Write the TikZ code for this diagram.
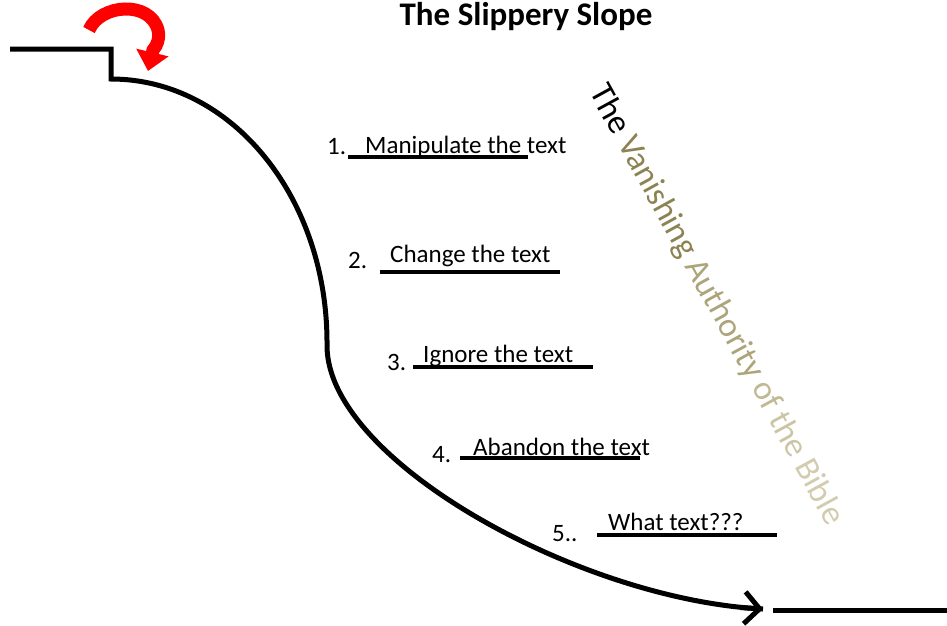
\documentclass[tikz,border=0pt]{standalone}
\usepackage{fontspec}
\setmainfont{Carlito}
\usetikzlibrary{arrows.meta,calc}
\definecolor{slopeRed}{RGB}{255,0,0}
\definecolor{vanA}{RGB}{140,131,82}
\definecolor{vanB}{RGB}{172,164,122}
\definecolor{vanC}{RGB}{192,185,148}
\definecolor{vanD}{RGB}{204,197,165}
\definecolor{vanE}{RGB}{210,204,175}
\begin{document}
\begin{tikzpicture}[x=1pt,y=-1pt,
  numlbl/.style={anchor=base west,inner sep=0pt,font=\fontsize{25}{29}\selectfont},
  itemlbl/.style={anchor=base west,inner sep=0pt,font=\fontsize{25}{29}\selectfont},
  uline/.style={line width=4pt},
  slope/.style={line width=5pt},
]
\useasboundingbox (0,0) rectangle (947,625);

% title
\node[font=\bfseries\fontsize{33}{36}\selectfont,inner sep=0pt] (title) at (526,17) {The Slippery Slope};

% platform and slope
\coordinate (ledgeL) at (10,49);
\coordinate (ledgeR) at (111,49);
\coordinate (slopeTop) at (111,79);
\coordinate (slopeMid) at (327,345);
\coordinate (slopeEnd) at (763,609);
\draw[slope] (ledgeL) -- (ledgeR) -- (slopeTop)
  .. controls (232,79) and (328,198) .. (slopeMid)
  .. controls (326,460) and (580,600) .. (slopeEnd);
\draw[slope,-{Straight Barb[length=15pt,width=32pt]}] (740,607.5) -- (slopeEnd);
\coordinate (floorL) at (773,610);
\coordinate (floorR) at (947,610);
\draw[slope] (floorL) -- (floorR);

% red arrow
\coordinate (redStart) at (89,30);
\coordinate (redArcEnd) at (153,50);
\coordinate (redTip) at (148,71);
\draw[slopeRed,line width=13pt,-{Triangle[length=19pt,width=32pt]}]
  (redStart) .. controls (100,4) and (150,0) .. (158,30)
  .. controls (160,38) and (157,46) .. (redArcEnd) -- (redTip);

% items
\node[numlbl] (n1) at (327,154) {1.};
\node[itemlbl] (t1) at (365,153) {Manipulate the text};
\coordinate (u1a) at (348,157); \coordinate (u1b) at (528,157);
\draw[uline] (u1a) -- (u1b);

\node[numlbl] (n2) at (348,268) {2.};
\node[itemlbl] (t2) at (390,262) {Change the text};
\coordinate (u2a) at (380,272); \coordinate (u2b) at (560,272);
\draw[uline] (u2a) -- (u2b);

\node[numlbl] (n3) at (387,370) {3.};
\node[itemlbl] (t3) at (423,362) {Ignore the text};
\coordinate (u3a) at (413,367); \coordinate (u3b) at (593,367);
\draw[uline] (u3a) -- (u3b);

\node[numlbl] (n4) at (432,462) {4.};
\node[itemlbl] (t4) at (473,455) {Abandon the text};
\coordinate (u4a) at (460,458); \coordinate (u4b) at (640,458);
\draw[uline] (u4a) -- (u4b);

\node[numlbl] (n5) at (552,541) {5..};
\node[itemlbl] (t5) at (608,530) {What text???};
\coordinate (u5a) at (597,535); \coordinate (u5b) at (777,535);
\draw[uline] (u5a) -- (u5b);

% diagonal text
\node[rotate=-61.3,inner sep=0pt,font=\fontsize{34}{37}\selectfont] (vanish) at (716,305)
  {The \textcolor{vanA}{Vanishing} \textcolor{vanB}{Authority} \textcolor{vanC}{of} \textcolor{vanD}{the} \textcolor{vanE}{Bible}};
\end{tikzpicture}
\end{document}
